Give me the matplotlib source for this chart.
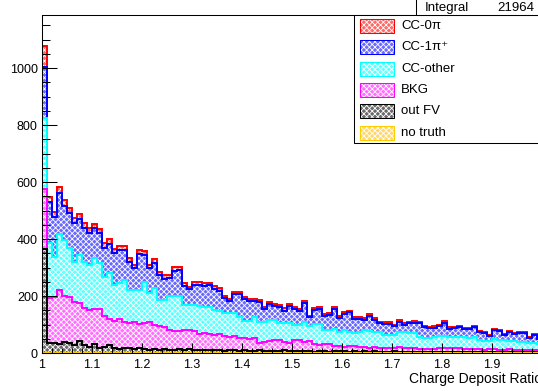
import numpy as np
import matplotlib.pyplot as plt
from matplotlib.patches import Rectangle
from matplotlib.ticker import MultipleLocator, FuncFormatter

plt.rcParams['font.family'] = ['Liberation Sans', 'DejaVu Sans']
plt.rcParams['hatch.linewidth'] = 0.6

# binning of the ratio histogram
x_lo, x_hi, n_bins = 1.0, 2.0, 100

# event counts per bin for each sample (stack order, bottom first)
out_fv = [365, 36, 36, 32, 40, 36, 27, 43, 27, 22, 30, 19, 22, 27, 19, 13, 16, 16, 14, 16,
          14, 12, 14, 12, 13, 10, 12, 14, 12, 14, 10, 12, 11, 9, 10, 12, 8, 9, 10, 8,
          9, 8, 7, 9, 8, 6, 8, 7, 9, 6, 7, 8, 6, 7, 5, 8, 6, 5, 7, 6,
          6, 5, 7, 5, 6, 4, 6, 5, 5, 4, 6, 5, 4, 5, 4, 5, 4, 3, 5, 4,
          5, 4, 3, 4, 5, 3, 4, 3, 4, 3, 4, 3, 3, 4, 2, 3, 4, 3, 2, 3]

bkg = [210, 156, 159, 190, 160, 159, 151, 134, 131, 130, 125, 134, 108, 93, 93, 105, 94, 90, 96, 86,
       90, 96, 86, 83, 79, 72, 64, 64, 70, 66, 66, 56, 59, 57, 54, 54, 52, 48, 48, 44,
       42, 42, 45, 27, 32, 36, 37, 39, 29, 30, 37, 37, 34, 34, 25, 21, 26, 26, 19, 18,
       16, 19, 19, 16, 14, 14, 14, 12, 14, 12, 12, 15, 13, 11, 14, 10, 10, 10, 10, 12,
       14, 13, 13, 14, 10, 11, 11, 10, 8, 11, 9, 8, 9, 9, 9, 7, 8, 8, 8, 6]

cc_other = [250, 195, 143, 195, 196, 172, 142, 167, 162, 157, 177, 162, 138, 160, 127, 127, 146, 115, 111, 119,
            146, 104, 127, 91, 94, 119, 125, 123, 86, 88, 94, 97, 90, 94, 86, 82, 79, 82, 81, 75,
            62, 63, 73, 74, 70, 74, 71, 58, 66, 68, 54, 53, 70, 54, 71, 72, 49, 50, 57, 51,
            58, 48, 43, 54, 60, 60, 55, 57, 45, 47, 45, 55, 55, 54, 51, 41, 40, 39, 40, 44,
            41, 39, 39, 38, 40, 40, 40, 32, 31, 28, 35, 36, 34, 28, 31, 30, 26, 24, 26, 24]

cc_1pi = [179, 144, 138, 145, 121, 123, 136, 126, 120, 112, 106, 105, 102, 104, 113, 115, 105, 99, 77, 126,
          95, 86, 90, 86, 75, 62, 88, 90, 67, 56, 70, 75, 75, 78, 76, 69, 54, 42, 67, 79,
          76, 70, 58, 68, 46, 56, 48, 57, 45, 61, 55, 51, 66, 30, 49, 55, 50, 53, 70, 49,
          58, 71, 50, 45, 37, 52, 41, 31, 39, 40, 31, 35, 27, 34, 38, 48, 37, 36, 34, 35,
          47, 29, 31, 34, 29, 31, 35, 28, 27, 16, 32, 30, 17, 32, 23, 31, 31, 19, 27, 16]

cc_0pi = [73, 18, 20, 22, 20, 18, 16, 18, 15, 16, 15, 14, 15, 16, 13, 15, 14, 12, 11, 14,
          13, 11, 12, 11, 12, 10, 12, 12, 10, 9, 10, 9, 10, 9, 9, 10, 8, 8, 9, 9,
          9, 8, 8, 8, 7, 8, 7, 7, 8, 7, 7, 7, 8, 6, 7, 7, 6, 6, 7, 6,
          7, 6, 6, 5, 6, 7, 6, 5, 5, 5, 5, 6, 5, 5, 6, 5, 5, 4, 5, 5,
          6, 5, 4, 5, 5, 4, 5, 4, 4, 4, 4, 4, 4, 4, 4, 4, 4, 3, 4, 3]

no_truth = [0] * n_bins

integral = 21964

labels = ["no truth", "out FV", "BKG", "CC-other", "CC-1π⁺", "CC-0π"]
line_colors = ["#ffcc00", "#000000", "#ff00ff", "#00ffff", "#0000ff", "#ff0000"]
fill_colors = ["#ffd770", "#6a6a6a", "#ff70ff", "#60ffff", "#6a6aff", "#ff6a6a"]

W, H = 538, 391


def fpos(x, y):
    # pixel position (from top-left) -> figure fraction
    return x / W, 1 - y / H


def draw_stack(ax, edges, samples):
    cum = np.cumsum(np.array(samples, dtype=float), axis=0)
    # largest cumulative first, smaller ones painted over it
    for i in reversed(range(len(samples))):
        ax.stairs(cum[i], edges, baseline=0, fill=True, facecolor=fill_colors[i],
                  edgecolor="white", hatch="xxxxxx", lw=0, zorder=1)
        ax.stairs(cum[i], edges, baseline=None, color=line_colors[i], lw=1.4, zorder=1)


def draw_legend(fig):
    x0, y0 = fpos(354, 143)
    x1, y1 = fpos(560, 15)
    fig.add_artist(Rectangle((x0, y0), x1 - x0, y1 - y0, transform=fig.transFigure,
                             facecolor="white", edgecolor="black", lw=0.75, zorder=5))
    for k, i in enumerate(reversed(range(len(labels)))):
        yc = 26 + 21.3 * k
        sx, sy = fpos(360, yc + 7)
        sw = 34 / W
        sh = 14 / H
        fig.add_artist(Rectangle((sx, sy), sw, sh, transform=fig.transFigure,
                                 facecolor=fill_colors[i], edgecolor="white", hatch="xxxxxx",
                                 lw=0, zorder=6))
        fig.add_artist(Rectangle((sx, sy), sw, sh, transform=fig.transFigure, fill=False,
                                 edgecolor=line_colors[i], lw=0.75, zorder=6))
        tx, ty = fpos(401, yc)
        fig.text(tx, ty, labels[i], ha="left", va="center", fontsize=9.5, zorder=7)


def draw_stats(fig):
    x0, y0 = fpos(416, 15)
    x1, y1 = fpos(560, -20)
    fig.add_artist(Rectangle((x0, y0), x1 - x0, y1 - y0, transform=fig.transFigure,
                             facecolor="white", edgecolor="black", lw=0.75, zorder=5))
    tx, ty = fpos(425, 11)
    fig.text(tx, ty, "Integral", ha="left", va="baseline", fontsize=9.5, zorder=7)
    tx, ty = fpos(534, 11)
    fig.text(tx, ty, f"{integral}", ha="right", va="baseline", fontsize=9.5, zorder=7)


def main():
    edges = np.linspace(x_lo, x_hi, n_bins + 1)
    samples = [no_truth, out_fv, bkg, cc_other, cc_1pi, cc_0pi]

    fig = plt.figure(figsize=(W / 100, H / 100), dpi=100)
    ax = fig.add_axes([42 / W, 1 - 353 / H, 500 / W, 338 / H])

    draw_stack(ax, edges, samples)

    ax.set_xlim(x_lo, x_hi)
    ax.set_ylim(0, 1186)
    ax.set_axisbelow(False)

    ax.xaxis.set_major_locator(MultipleLocator(0.1))
    ax.xaxis.set_minor_locator(MultipleLocator(0.02))
    ax.yaxis.set_major_locator(MultipleLocator(200))
    ax.yaxis.set_minor_locator(MultipleLocator(50))
    ax.xaxis.set_major_formatter(FuncFormatter(lambda v, p: f"{v:g}"))

    ax.tick_params(direction="in", which="both", top=False, right=False, width=0.75, labelsize=9)
    ax.tick_params(axis="y", which="major", length=10.8, pad=3)
    ax.tick_params(axis="y", which="minor", length=5.4)
    ax.tick_params(axis="x", which="major", length=7.2, pad=4)
    ax.tick_params(axis="x", which="minor", length=3.6)
    for s in ax.spines.values():
        s.set_linewidth(0.75)

    ax.set_xlabel("Charge Deposit Ratio", fontsize=10)
    ax.xaxis.label.set_ha("right")
    ax.xaxis.label.set_va("baseline")
    ax.xaxis.set_label_coords(1.0, -(383 - 353) / 338)

    draw_legend(fig)
    draw_stats(fig)

    fig.savefig("out.png", dpi=100)


if __name__ == "__main__":
    main()
